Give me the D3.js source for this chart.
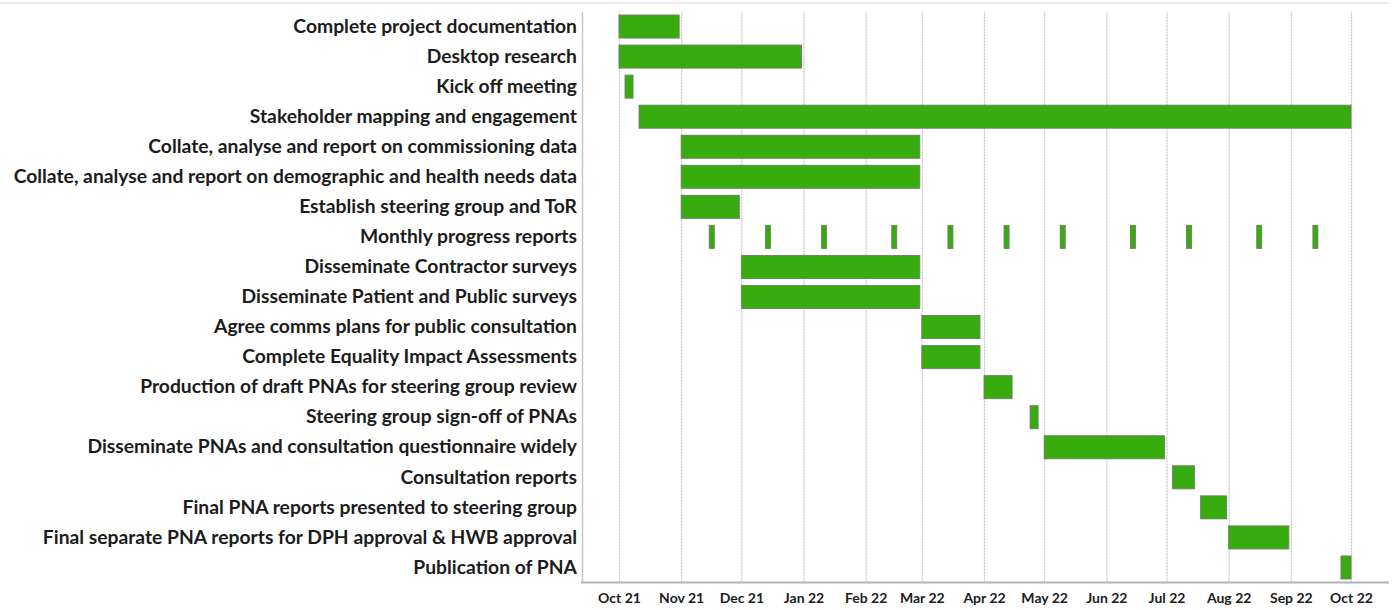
<!DOCTYPE html>
<html>
<head>
<meta charset="utf-8">
<script src="https://cdn.jsdelivr.net/npm/d3@7"></script>
<style>
  html, body { margin: 0; padding: 0; background: #fff; }
  svg { display: block; }
</style>
</head>
<body>
<svg id="chart" width="1394" height="610"></svg>
<script>
const tasks = [
  "Complete project documentation",
  "Desktop research",
  "Kick off meeting",
  "Stakeholder mapping and engagement",
  "Collate, analyse and report on commissioning data",
  "Collate, analyse and report on demographic and health needs data",
  "Establish steering group and ToR",
  "Monthly progress reports",
  "Disseminate Contractor surveys",
  "Disseminate Patient and Public surveys",
  "Agree comms plans for public consultation",
  "Complete Equality Impact Assessments",
  "Production of draft PNAs for steering group review",
  "Steering group sign-off of PNAs",
  "Disseminate PNAs and consultation questionnaire widely",
  "Consultation reports",
  "Final PNA reports presented to steering group",
  "Final separate PNA reports for DPH approval & HWB approval",
  "Publication of PNA"
];

// [task index, start, end]
const bars = [
  [0, "2021-10-01", "2021-10-31"],
  [1, "2021-10-01", "2021-12-31"],
  [2, "2021-10-04", "2021-10-08"],
  [3, "2021-10-11", "2022-10-01"],
  [4, "2021-11-01", "2022-02-28"],
  [5, "2021-11-01", "2022-02-28"],
  [6, "2021-11-01", "2021-11-30"],
  [8, "2021-12-01", "2022-02-28"],
  [9, "2021-12-01", "2022-02-28"],
  [10, "2022-03-01", "2022-03-30"],
  [11, "2022-03-01", "2022-03-30"],
  [12, "2022-04-01", "2022-04-15"],
  [13, "2022-04-24", "2022-04-28"],
  [14, "2022-05-01", "2022-06-30"],
  [15, "2022-07-04", "2022-07-15"],
  [16, "2022-07-18", "2022-07-31"],
  [17, "2022-08-01", "2022-08-31"],
  [18, "2022-09-26", "2022-10-01"]
];

const monthlyReports = [
  "2021-11-15", "2021-12-13", "2022-01-10", "2022-02-14", "2022-03-14", "2022-04-11",
  "2022-05-09", "2022-06-13", "2022-07-11", "2022-08-15", "2022-09-12"
];
const reportDays = 2.5;

const monthTicks = [
  "2021-10-01", "2021-11-01", "2021-12-01", "2022-01-01", "2022-02-01", "2022-03-01", "2022-04-01",
  "2022-05-01", "2022-06-01", "2022-07-01", "2022-08-01", "2022-09-01", "2022-10-01"
];

const parse = d3.utcParse("%Y-%m-%d");
const svg = d3.select("#chart");

const plotTop = 11.5, plotBottom = 582.5, axisX = 582, axisRight = 1389;

const x = d3.scaleUtc()
  .domain([parse("2021-10-01"), parse("2022-10-01")])
  .range([619, 1351]);

const y = d3.scaleBand()
  .domain(tasks)
  .range([plotTop, plotBottom])
  .paddingInner(0.233)
  .paddingOuter(0.1165);

// top faint border
svg.append("line")
  .attr("x1", 0).attr("x2", axisRight)
  .attr("y1", 3).attr("y2", 3)
  .attr("stroke", "#ebebeb").attr("stroke-width", 2);

// gridlines
const grid = svg.append("g")
  .attr("transform", `translate(0,${plotBottom})`)
  .call(d3.axisBottom(x)
    .tickValues(monthTicks.map(parse))
    .tickSize(-(plotBottom - plotTop))
    .tickFormat(""));
grid.select(".domain").remove();
grid.selectAll(".tick line")
  .attr("stroke", "#c4c4c4")
  .attr("stroke-width", 1.2)
  .attr("stroke-dasharray", "2,1");

// bars
const allBars = bars.map(b => ({task: tasks[b[0]], start: parse(b[1]), end: parse(b[2])}))
  .concat(monthlyReports.map(d => ({
    task: tasks[7],
    start: parse(d),
    end: d3.utcHour.offset(parse(d), reportDays * 24)
  })));

svg.append("g").selectAll("rect")
  .data(allBars)
  .join("rect")
  .attr("x", d => x(d.start))
  .attr("y", d => y(d.task))
  .attr("width", d => Math.max(1, x(d.end) - x(d.start)))
  .attr("height", y.bandwidth())
  .attr("fill", "#38ab0f")
  .attr("stroke", "#6f7f69")
  .attr("stroke-width", 0.9);

// left axis with labels
const yAxis = svg.append("g")
  .attr("transform", `translate(${axisX},0)`)
  .call(d3.axisLeft(y).tickSize(0).tickPadding(5));
yAxis.select(".domain")
  .attr("stroke", "#c8c8c8").attr("stroke-width", 1.5);
yAxis.selectAll(".tick text")
  .attr("fill", "#1c1c1c")
  .style("font-family", "Lato, 'Open Sans', sans-serif")
  .style("font-weight", "bold")
  .style("font-size", "19.3px");

// bottom axis line
svg.append("line")
  .attr("x1", axisX - 1).attr("x2", axisRight)
  .attr("y1", plotBottom).attr("y2", plotBottom)
  .attr("stroke", "#b4b4b4").attr("stroke-width", 2);

// bottom tick labels
const xAxis = svg.append("g")
  .attr("transform", `translate(0,${plotBottom})`)
  .call(d3.axisBottom(x)
    .tickValues(monthTicks.map(parse))
    .tickSize(0)
    .tickPadding(11)
    .tickFormat(d3.utcFormat("%b %y")));
xAxis.select(".domain").remove();
xAxis.selectAll(".tick text")
  .attr("fill", "#1c1c1c")
  .style("font-family", "Lato, 'Open Sans', sans-serif")
  .style("font-weight", "bold")
  .style("font-size", "14px");
</script>
</body>
</html>
